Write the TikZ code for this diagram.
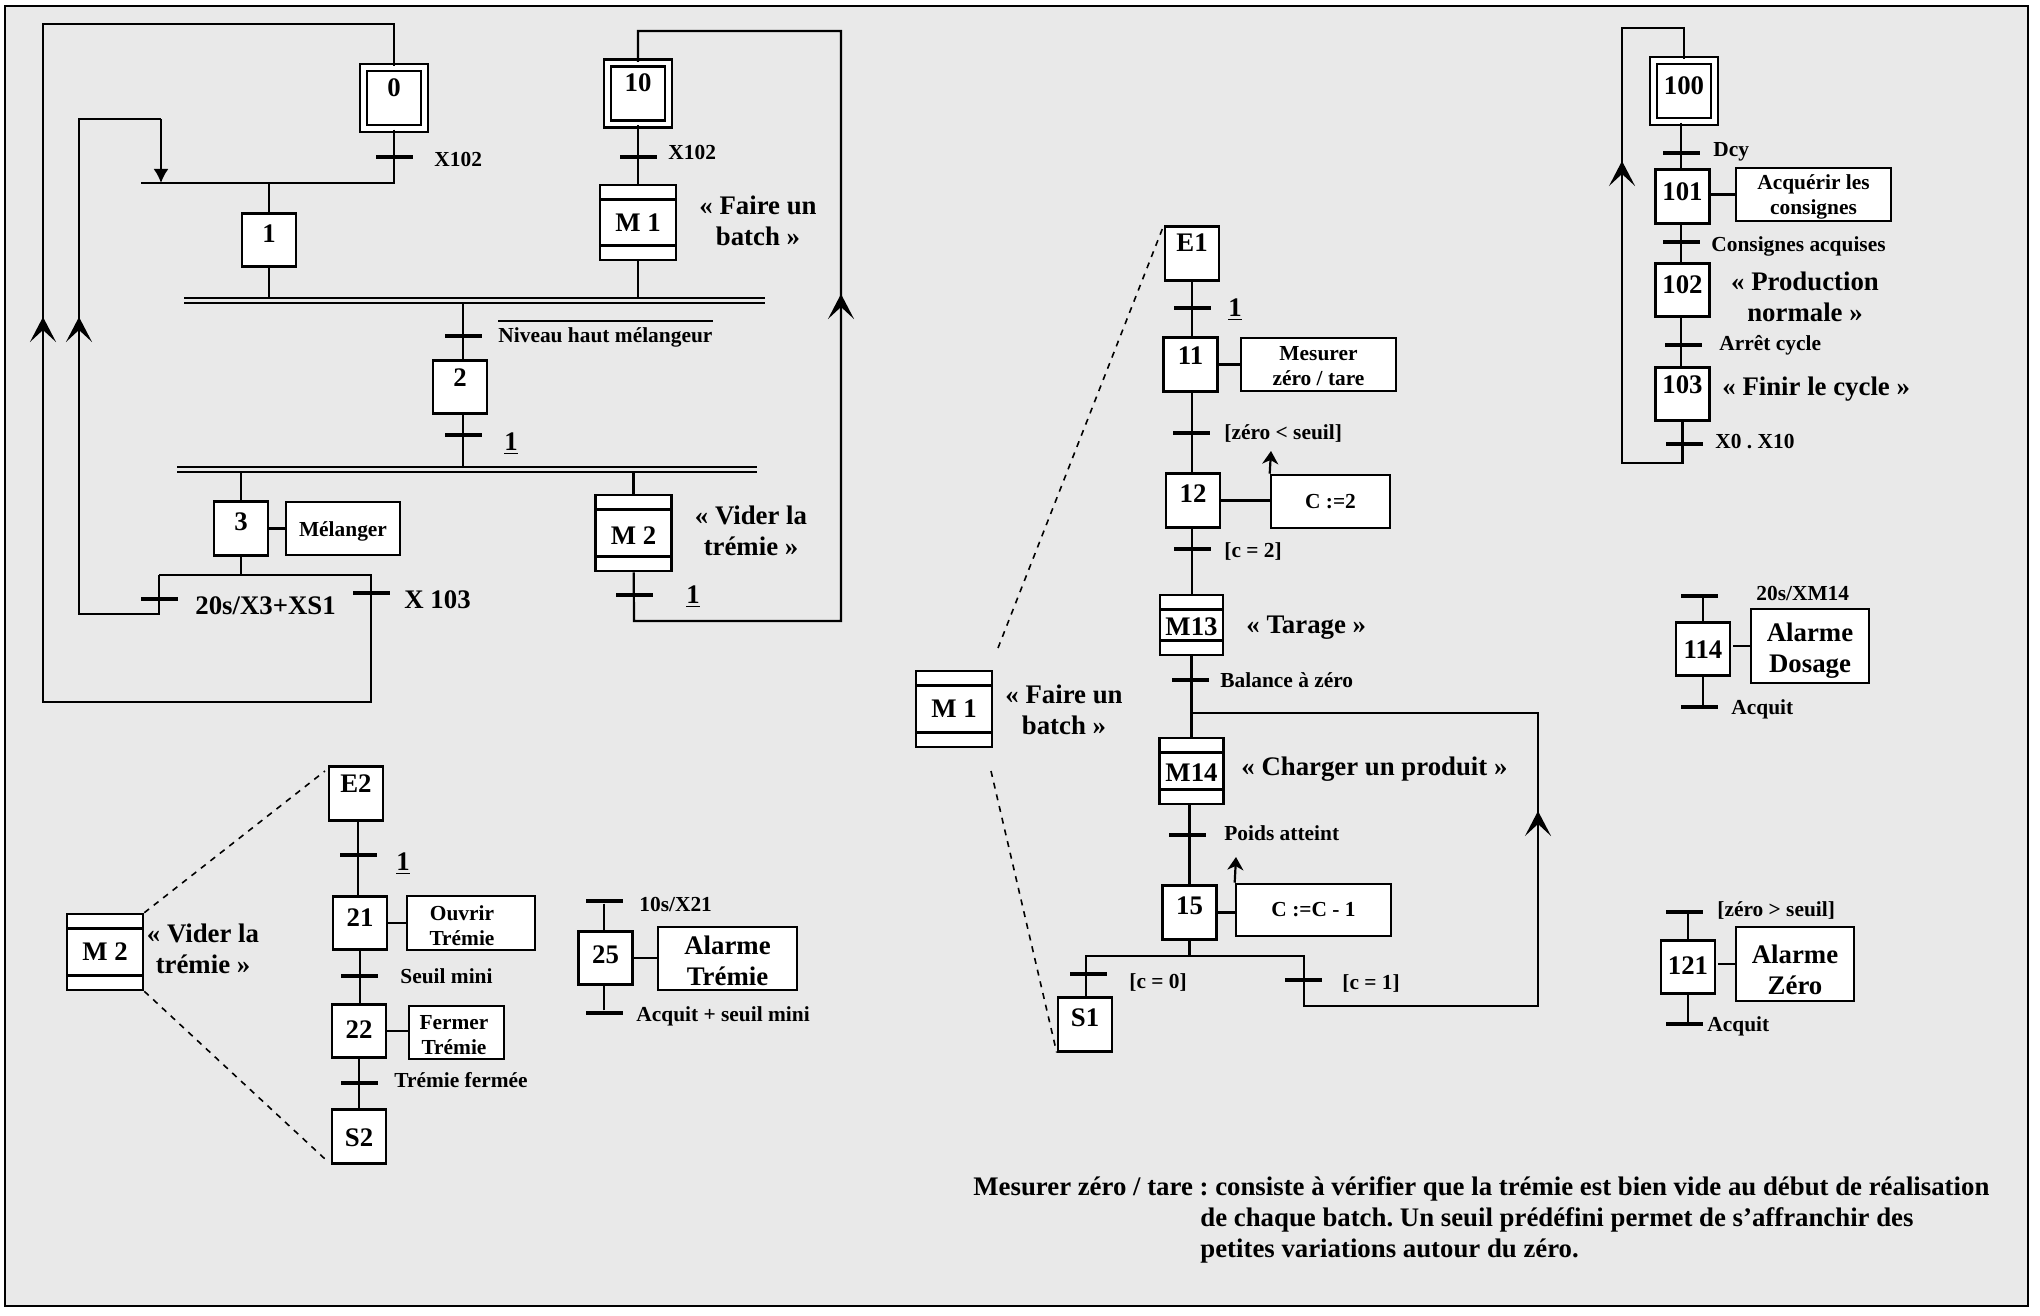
\documentclass[tikz,border=0pt]{standalone}
\usepackage{fontspec}
\setmainfont{Liberation Serif}
\usetikzlibrary{arrows.meta}
\frenchspacing
\definecolor{bggray}{RGB}{233,233,233}
\newcommand{\downby}[1]{\rule{0pt}{#1}}
\tikzset{
    wd/.style={minimum width=#1*0.5pt},
    ht/.style={minimum height=#1*0.5pt},
    bigtxt/.style={font=\fontsize{13.4}{15.6}\bfseries\selectfont},
    smalltxt/.style={font=\fontsize{10.7}{12.5}\bfseries\selectfont},
    notetxt/.style={font=\fontsize{13.4}{15.6}\bfseries\selectfont},
    wire/.style={line width=1.1pt},
    flowup/.style={wire,-{Stealth[length=12.5pt,width=13pt,inset=6pt]}},
    smallup/.style={wire,-{Stealth[length=6.5pt,width=8pt,inset=2pt]}},
    zoomline/.style={line width=0.8pt,dashed},
    trans/.style={fill=black,inner sep=0pt,minimum width=18.5pt,minimum height=1.6pt},
    transthick/.style={trans,minimum height=2.2pt},
    busbar/.style={line width=1pt,double=bggray,double distance=1.5pt},
    stepbox/.style={draw,fill=white,line width=1.3pt,inner sep=0pt,bigtxt,wd=54,ht=53.5,
        text height=#1,text depth=26.75pt-#1},
    stepbox/.default=14.5pt,
    initbox/.style={draw,fill=white,line width=1.2pt,double,double distance=2.3pt,inner sep=0pt,bigtxt,wd=61,ht=61,
        text height=#1,text depth=30.5pt-#1},
    macrobox/.style={draw,fill=white,line width=1.3pt,inner sep=0pt,bigtxt,wd=#1,
        path picture={
            \draw[line width=1.3pt] ([yshift=-7.25pt]path picture bounding box.north west) -- ([yshift=-7.25pt]path picture bounding box.north east);
            \draw[line width=1.3pt] ([yshift=7.25pt]path picture bounding box.south west) -- ([yshift=7.25pt]path picture bounding box.south east);
        }},
    actionbox/.style={draw,fill=white,line width=1.3pt,inner sep=0pt,align=center},
    lab/.style={smalltxt,inner sep=0pt,anchor=west,yshift=-1pt},
    biglab/.style={bigtxt,inner sep=0pt,align=center,yshift=-0.5pt},
}
\begin{document}
\begin{tikzpicture}[x=0.5pt,y=-0.5pt]
    \useasboundingbox (0,0) rectangle (2040,1316);
    %frame
    \coordinate (fa) at (5,6);
    \coordinate (fb) at (2028,1306);
    \draw[fill=bggray,line width=1pt] (fa) rectangle (fb);

    %main sequence
    \node[initbox=14.5pt] (s0) at (394,98) {0};
    \node[initbox=14.5pt] (s10) at (638,93.5) {10};
    \node[stepbox] (s1) at (269,240) {1};
    \node[macrobox=76,ht=75] (m1) at (638,222.5) {M 1};
    \node[stepbox=13pt] (s2) at (460,387) {2};
    \node[stepbox] (s3) at (241,528.5) {3};
    \node[actionbox,smalltxt,wd=114,ht=53] (a3) at (343,528.5) {\downby{9.9pt}Mélanger};
    \node[macrobox=76,ht=76] (m2) at (633.5,533) {\downby{11.8pt}M 2};
    \node[trans] (t0) at (394,157) {};
    \node[trans] (t10) at (638,157) {};
    \node[trans] (t2) at (463,336) {};
    \node[trans] (t2b) at (463,435) {};
    \node[trans] (t3a) at (159,599) {};
    \node[trans] (t3b) at (371,593) {};
    \node[trans] (t4) at (634,595) {};
    \coordinate (b0l) at (141,183);
    \coordinate (b0r) at (394,183);
    \coordinate (j0) at (161,183);
    \coordinate (b1l) at (184,300.5);
    \coordinate (b1r) at (765,300.5);
    \coordinate (b2l) at (177,469.5);
    \coordinate (b2r) at (757,469.5);
    \coordinate (b3l) at (159,575);
    \coordinate (b3r) at (371,575);
    \coordinate (l0a) at (43,24);
    \coordinate (l0b) at (43,702);
    \coordinate (l0t) at (43,317);
    \coordinate (l1a) at (79,614);
    \coordinate (l1b) at (79,119);
    \coordinate (l1c) at (161,119);
    \coordinate (l1t) at (79,317);
    \coordinate (l2a) at (634,621);
    \coordinate (l2b) at (841,621);
    \coordinate (l2c) at (841,31);
    \coordinate (l2t) at (841,294);
    \draw[wire] (s0) -- (t0.center) -- (b0r) -- (b0l);
    \draw[wire] (s1 |- b0l) -- (s1);
    \draw[wire] (s1) -- (s1 |- b1l);
    \draw[wire] (s10) -- (m1);
    \draw[wire] (m1) -- (m1 |- b1l);
    \draw[wire] (t2 |- b1l) -- (t2 |- s2.north);
    \draw[wire] (t2 |- s2.south) -- (t2 |- b2l);
    \draw[wire] (s3 |- b2l) -- (s3);
    \draw[wire] (s3) -- (s3 |- b3l);
    \draw[wire] (s3) -- (a3);
    \draw[wire] (m2 |- b2l) -- (m2);
    \draw[wire] (m2) -- (l2a) -- (l2b) -- (l2c) -| (s10);
    \draw[flowup] (l2b) -- (l2t);
    \draw[wire] (b3l) -- (b3r) -- (t3b.center) |- (l0b) -- (l0a) -| (s0);
    \draw[flowup] (l0b) -- (l0t);
    \draw[wire] (b3l) -- (t3a.center) |- (l1a) -- (l1b) -- (l1c);
    \draw[flowup] (l1a) -- (l1t);
    \draw[wire,-{Latex[length=7pt,width=7.5pt]}] (l1c) -- (j0);
    \draw[busbar] (b1l) -- (b1r);
    \draw[busbar] (b2l) -- (b2r);

    %labels
    \node[lab] (lx0) at (434,157) {X102};
    \node[lab] (lx10) at (668,150) {X102};
    \node[biglab] (lm1) at (758,219.5) {« Faire un\\batch »};
    \node[lab] (lniv) at (498,335) {Niveau haut mélangeur};
    \draw[line width=1.3pt] ([yshift=3pt]lniv.north west) -- ([yshift=3pt]lniv.north east);
    \node[lab,bigtxt] (lun2) at (504,442) {\underline{1}};
    \node[biglab] (lm2) at (751,529.5) {« Vider la\\trémie »};
    \node[lab,bigtxt] (lt3a) at (195,604) {20s/X3+XS1};
    \node[lab,bigtxt] (lt3b) at (404,598) {X 103};
    \node[lab,bigtxt] (lun4) at (686,595) {\underline{1}};

    %macro M1
    \node[macrobox=76,ht=76] (m1b) at (954,709) {M 1};
    \node[biglab] (lm1b) at (1064,709) {« Faire un\\batch »};
    \node[stepbox=12.5pt] (e1) at (1192,253.5) {E1};
    \node[stepbox=13.5pt] (s11) at (1190.5,364.5) {11};
    \node[actionbox,smalltxt,wd=155,ht=53] (a11) at (1318.5,364.5) {\downby{8.3pt}Mesurer\\zéro / tare};
    \node[stepbox] (s12) at (1193,500.5) {12};
    \node[actionbox,smalltxt,wd=119,ht=53] (a12) at (1330.5,501.5) {C :=2};
    \node[macrobox=63,ht=60] (m13) at (1191.5,625) {\downby{10.8pt}M13};
    \node[macrobox=64,ht=66] (m14) at (1191.5,771) {\downby{10.8pt}M14};
    \node[stepbox] (s15) at (1189.5,912.5) {15};
    \node[actionbox,smalltxt,wd=155,ht=52] (a15) at (1313.5,910) {C :=C - 1};
    \node[stepbox] (s1e) at (1085,1024.5) {S1};
    \node[trans] (t11) at (1192,308) {};
    \node[trans] (t12) at (1191,433) {};
    \node[trans] (t13) at (1192,549) {};
    \node[trans] (t14) at (1190,680) {};
    \node[trans] (t15) at (1187,835) {};
    \node[trans] (t16) at (1088,974) {};
    \node[trans] (t17) at (1303,980) {};
    \coordinate (z1a) at (998,648);
    \coordinate (z1b) at (991,771);
    \coordinate (a12t) at (1271,451);
    \coordinate (a15t) at (1236,857);
    \coordinate (b4l) at (1086,956);
    \coordinate (b4r) at (1304,956);
    \coordinate (l3a) at (1304,1006);
    \coordinate (l3b) at (1538,1006);
    \coordinate (l3c) at (1538,713);
    \coordinate (l3d) at (1191.5,713);
    \coordinate (l3t) at (1538,811);
    \draw[zoomline] (z1a) -- (e1.north west);
    \draw[zoomline] (z1b) -- (s1e.south west);
    \draw[wire] (e1) -- (e1 |- s11.north);
    \draw[wire] (e1 |- s11.south) -- (e1 |- s12.north);
    \draw[wire] (e1 |- s12.south) -- (e1 |- m13.north);
    \draw[wire] (s11) -- (s11 -| a11.west);
    \draw[wire] (s12) -- (s12 -| a12.west);
    \draw[smallup] (a12.north west) -- (a12t);
    \draw[wire] (m13) -- (m14);
    \draw[wire] (s15 |- m14.south) -- (s15);
    \draw[wire] (s15) -- (s15 -| a15.west);
    \draw[smallup] (a15.north west) -- (a15t);
    \draw[wire] (s15) -- (s15 |- b4l);
    \draw[wire] (b4l |- s1e.north) -- (b4l) -- (b4r) -- (l3a) -- (l3b) -- (l3c) -- (l3d);
    \draw[flowup] (l3b) -- (l3t);
    \node[lab,bigtxt] (lun11) at (1228,308) {\underline{1}};
    \node[lab] (l12) at (1224,431) {[zéro < seuil]};
    \node[lab] (l13) at (1224,550) {[c = 2]};
    \node[lab,bigtxt] (lm13) at (1246,626) {« Tarage »};
    \node[lab] (l14) at (1220,678) {Balance à zéro};
    \node[lab,bigtxt] (lm14) at (1241,767) {« Charger un produit »};
    \node[lab] (l15) at (1224,831) {Poids atteint};
    \node[lab] (l16) at (1129,980) {[c = 0]};
    \node[lab] (l17) at (1342,981) {[c = 1]};

    %macro M2
    \node[macrobox=76,ht=76] (m2b) at (105,952) {M 2};
    \node[biglab] (lm2b) at (203,948) {« Vider la\\trémie »};
    \node[stepbox=13pt] (e2) at (356,793.5) {E2};
    \node[stepbox=15pt] (s21) at (360,923) {21};
    \node[actionbox,smalltxt,wd=128,ht=54] (a21) at (471,923) {\downby{9.9pt}Ouvrir\hspace*{9pt}\\Trémie\hspace*{9pt}};
    \node[stepbox=17pt] (s22) at (359,1031) {22};
    \node[actionbox,smalltxt,wd=95,ht=53] (a22) at (456.5,1032.5) {\downby{9.9pt}Fermer\hspace*{2.5pt}\\Trémie\hspace*{2.5pt}};
    \node[stepbox=18.5pt] (s2e) at (359,1136.5) {S2};
    \node[transthick] (t21) at (358,855) {};
    \node[transthick] (t22) at (359,976) {};
    \node[transthick] (t23) at (359,1083) {};
    \coordinate (z2a) at (325,771);
    \coordinate (z2b) at (325,1159);
    \draw[zoomline] (m2b.north east) -- (z2a);
    \draw[zoomline] (m2b.south east) -- (z2b);
    \draw[wire] (t21 |- e2.south) -- (t21 |- s21.north);
    \draw[wire] (s21) -- (s21 |- s22.north);
    \draw[wire] (s22) -- (s2e);
    \draw[wire] (s21) -- (s21 -| a21.west);
    \draw[wire] (s22) -- (s22 -| a22.west);
    \node[lab,bigtxt] (lun21) at (396,862) {\underline{1}};
    \node[lab] (l22) at (400,974) {Seuil mini};
    \node[lab] (l23) at (394,1078) {Trémie fermée};

    %alarm 25
    \node[stepbox=16pt] (s25) at (605.5,958) {25};
    \node[actionbox,bigtxt,wd=139,ht=63] (a25) at (727.5,958.5) {\downby{11.6pt}Alarme\\Trémie};
    \node[transthick] (t25a) at (604,901) {};
    \node[transthick] (t25b) at (604,1013) {};
    \draw[wire] (t25a) -- (t25a |- s25.north);
    \draw[wire] (t25b) -- (t25b |- s25.south);
    \draw[wire] (s25) -- (s25 -| a25.west);
    \node[lab] (l25a) at (639,902) {10s/X21};
    \node[lab] (l25b) at (636,1014) {Acquit + seuil mini};

    %sequence 100
    \node[initbox=17pt] (s100) at (1684,91) {100};
    \node[stepbox=15.5pt] (s101) at (1682.5,196.5) {101};
    \node[actionbox,smalltxt,wd=155,ht=53] (a101) at (1813.5,194.5) {\downby{9.9pt}Acquérir les\\consignes};
    \node[stepbox=15pt] (s102) at (1682.5,290) {102};
    \node[stepbox=13pt] (s103) at (1682.5,394) {103};
    \node[trans] (t101) at (1681,153) {};
    \node[trans] (t102) at (1681,242) {};
    \node[trans] (t103) at (1683,345) {};
    \node[trans] (t104) at (1684,444) {};
    \coordinate (l4a) at (1622,28);
    \coordinate (l4b) at (1622,463);
    \coordinate (l4t) at (1622,161);
    \draw[wire] (t102 |- s100.south) -- (t102 |- s101.north);
    \draw[wire] (t102 |- s101.south) -- (t102 |- s102.north);
    \draw[wire] (t102 |- s102.south) -- (t102 |- s103.north);
    \draw[wire] (s101.east |- a101) -- (a101);
    \draw[wire] (s103) |- (l4b) -- (l4a) -| (s100);
    \draw[flowup] (l4b) -- (l4t);
    \node[lab] (l101) at (1713,150) {Dcy};
    \node[lab] (l102) at (1711,244) {Consignes acquises};
    \node[biglab] (lm102) at (1805,296) {« Production\\normale »};
    \node[lab] (l103) at (1719,343) {Arrêt cycle};
    \node[lab,bigtxt] (lm103) at (1722,387) {« Finir le cycle »};
    \node[lab] (l104) at (1715,440) {X0 . X10};

    %alarm 114
    \node[stepbox=18pt] (s114) at (1703,649) {114};
    \node[actionbox,bigtxt,wd=118,ht=74] (a114) at (1810,646) {\downby{14pt}Alarme\\Dosage};
    \node[transthick] (t114a) at (1699,596) {};
    \node[transthick] (t114b) at (1699,707) {};
    \draw[wire] (t114a -| s114) -- (s114);
    \draw[wire] (s114) -- (t114b -| s114);
    \draw[wire,shorten <=1pt] (s114.east |- a114) -- (a114);
    \node[lab] (l114a) at (1756,591) {20s/XM14};
    \node[lab] (l114b) at (1731,707) {Acquit};

    %alarm 121
    \node[stepbox=17pt] (s121) at (1688,967) {121};
    \node[actionbox,bigtxt,wd=118,ht=74] (a121) at (1795,964) {\downby{14.8pt}Alarme\\Zéro};
    \node[transthick] (t121a) at (1684,912) {};
    \node[transthick] (t121b) at (1684,1024) {};
    \draw[wire] (t121a -| s121) -- (s121);
    \draw[wire] (s121) -- (t121b -| s121);
    \draw[wire,shorten <=1pt] (s121.east |- a121) -- (a121);
    \node[lab] (l121a) at (1717,908) {[zéro > seuil]};
    \node[lab] (l121b) at (1707,1024) {Acquit};

    %note
    \node[lab,notetxt] (n1) at (973,1187) {Mesurer zéro / tare : consiste à vérifier que la trémie est bien vide au début de réalisation};
    \node[lab,notetxt] (n2) at (1200,1218) {de chaque batch. Un seuil prédéfini permet de s’affranchir des};
    \node[lab,notetxt] (n3) at (1200,1249) {petites variations autour du zéro.};

\end{tikzpicture}
\end{document}
